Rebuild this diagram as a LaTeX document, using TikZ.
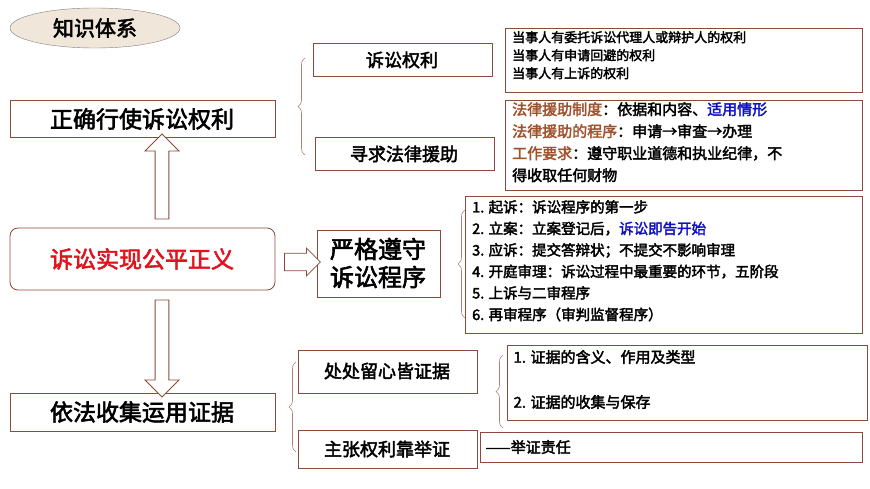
\documentclass[tikz,border=0pt]{standalone}
\usepackage{fontspec}
\setmainfont{Noto Sans CJK SC}[BoldFont={Noto Sans CJK SC},BoldFeatures={FakeBold=2.5}]
\usetikzlibrary{decorations.pathreplacing,shapes.arrows,shapes.geometric}
\definecolor{bd}{HTML}{8B4A3A}
\definecolor{lb}{HTML}{A0522D}
\definecolor{bl}{HTML}{1010C8}
\definecolor{rd}{HTML}{E0141E}
\definecolor{el}{HTML}{F0E6DA}
\begin{document}
\begin{tikzpicture}[x=1pt,y=-1pt,
 bx/.style={draw=bd,line width=0.8pt,fill=white},
 br/.style={draw=bd!70,line width=0.6pt,decorate,decoration={brace,amplitude=7pt,mirror}},
 t/.style={anchor=center,font=\bfseries}]
\useasboundingbox (0,0) rectangle (870,489);
% title
\node[draw=gray,fill=el,ellipse,minimum width=170,minimum height=40,font=\bfseries\fontsize{21}{21}\selectfont] (title) at (95,28) {知识体系};
% boxes
\draw[bx] (313,43) rectangle (492,76); \node[t,font=\bfseries\fontsize{18}{18}\selectfont] (a1) at (402,60) {诉讼权利};
\draw[bx] (315,137) rectangle (494,170); \node[t,font=\bfseries\fontsize{18}{18}\selectfont] (a2) at (404,154) {寻求法律援助};
\draw[bx] (10,100) rectangle (275,137); \node[t,font=\bfseries\fontsize{23}{23}\selectfont] (m1) at (142,119) {正确行使诉讼权利};
\draw[bx,rounded corners=8] (10,228) rectangle (275,290); \node[t,text=rd,font=\bfseries\fontsize{23}{23}\selectfont] (m2) at (142,259) {诉讼实现公平正义};
\draw[bx] (10,393) rectangle (275,431); \node[t,font=\bfseries\fontsize{23}{23}\selectfont] (m3) at (142,412) {依法收集运用证据};
\draw[bx] (317,230) rectangle (440,297); \node[t,align=center,font=\bfseries\fontsize{24}{28}\selectfont] (b1) at (378,263) {严格遵守\\诉讼程序};
\draw[bx] (298,350) rectangle (477,393); \node[t,font=\bfseries\fontsize{18}{18}\selectfont] (c1) at (387,371) {处处留心皆证据};
\draw[bx] (298,430) rectangle (477,468); \node[t,font=\bfseries\fontsize{18}{18}\selectfont] (c2) at (387,449) {主张权利靠举证};
% text boxes
\draw[bx] (505,28) rectangle (862,92);
\node[anchor=north west,align=left,inner sep=0,font=\bfseries\fontsize{13}{18}\selectfont] (r1) at (512,31) {当事人有委托诉讼代理人或辩护人的权利\\当事人有申请回避的权利\\当事人有上诉的权利};
\draw[bx] (505,100) rectangle (862,190);
\node[anchor=north west,align=left,inner sep=0,font=\bfseries\fontsize{15}{22}\selectfont] (r2) at (512,102) {\textcolor{lb}{法律援助制度}：依据和内容、\textcolor{bl}{适用情形}\\\textcolor{lb}{法律援助的程序}：申请→审查→办理\\\textcolor{lb}{工作要求}：遵守职业道德和执业纪律，不\\得收取任何财物};
\draw[bx] (465,196) rectangle (862,333);
\node[anchor=north west,align=left,inner sep=0,font=\bfseries\fontsize{14.5}{21.5}\selectfont] (r3) at (472,200) {1. 起诉：诉讼程序的第一步\\2. 立案：立案登记后，\textcolor{bl}{诉讼即告开始}\\3. 应诉：提交答辩状；不提交不影响审理\\4. 开庭审理：诉讼过程中最重要的环节，五阶段\\5. 上诉与二审程序\\6. 再审程序（审判监督程序）};
\draw[bx] (507,345) rectangle (867,420);
\node[anchor=west,font=\bfseries\fontsize{15}{15}\selectfont] (r4) at (510,357) {1. 证据的含义、作用及类型};
\node[anchor=west,font=\bfseries\fontsize{15}{15}\selectfont] (r5) at (510,402) {2. 证据的收集与保存};
\draw[bx] (480,432) rectangle (862,462);
\node[anchor=west,font=\bfseries\fontsize{15}{15}\selectfont] (r6) at (482,447) {——举证责任};
% braces
\draw[br] (305,58) -- (305,155);
\draw[br] (465,210) -- (465,318);
\draw[br] (296,362) -- (296,452);
\draw[br] (503,355) -- (503,428);
% hollow arrows
\node[single arrow,draw=bd,line width=0.8pt,fill=white,minimum height=85,minimum width=34,single arrow head extend=5,shape border rotate=90,inner sep=3] (u) at (162,180) {};
\node[single arrow,draw=bd,line width=0.8pt,fill=white,minimum height=97,minimum width=34,single arrow head extend=5,shape border rotate=270,inner sep=3] (d) at (162,345) {};
\node[single arrow,draw=bd,line width=0.8pt,fill=white,minimum height=36,minimum width=28,single arrow head extend=2,inner sep=3] (rr) at (298,262) {};
\end{tikzpicture}
\end{document}
